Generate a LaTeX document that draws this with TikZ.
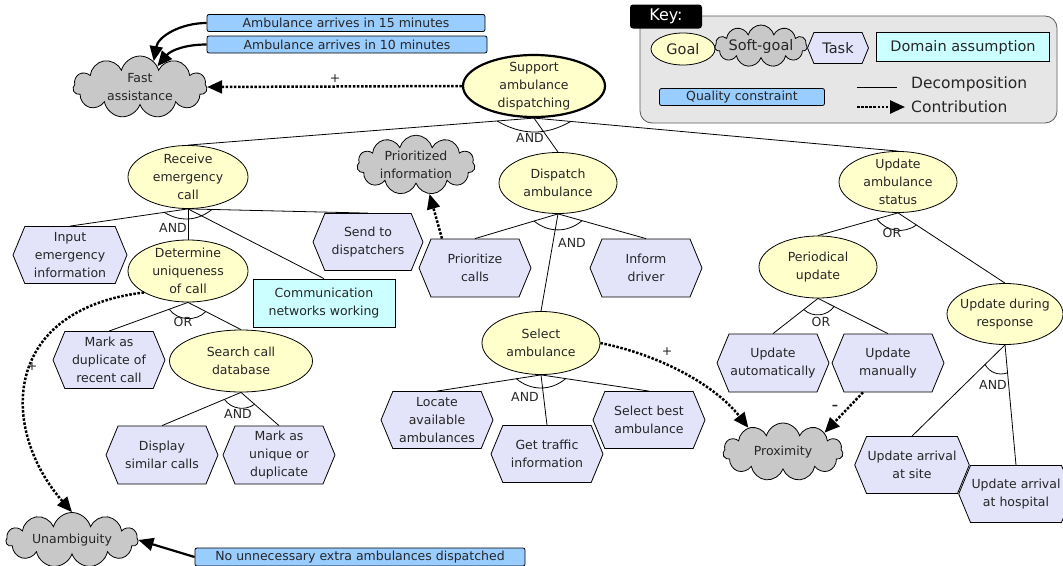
\documentclass[tikz,border=0pt]{standalone}
\usepackage{fontspec}
\setmainfont{DejaVu Sans}
\usepackage{tikz}
\usetikzlibrary{arrows.meta}
\usetikzlibrary{calc}
\usetikzlibrary{shapes.geometric,shapes.symbols}

\definecolor{goalyellow}{HTML}{FFFFCC}
\definecolor{softgray}{HTML}{C8C8C8}
\definecolor{tasklilac}{HTML}{E3E3FA}
\definecolor{domaincyan}{HTML}{CCFFFF}
\definecolor{qualityblue}{HTML}{99CCFF}
\definecolor{keygray}{HTML}{E6E6E6}

\begin{document}
\begin{tikzpicture}[x=1pt, y=-1pt,
    every node/.style={font=\fontsize{12.5}{18}\selectfont, align=center, text=black!85},
    goal/.style={draw, line width=0.8pt, ellipse, fill=goalyellow, minimum width=118pt, minimum height=62pt, inner sep=-5pt},
    softgoal/.style={draw, line width=0.8pt, cloud, cloud puffs=11, cloud ignores aspect, fill=softgray, minimum width=120pt, minimum height=55pt, inner sep=0pt},
    task/.style={draw, line width=0.8pt, signal, signal to=east and west, signal pointer angle=135, fill=tasklilac, minimum width=112pt, minimum height=57pt, inner sep=1pt},
    assumption/.style={draw, line width=0.8pt, rectangle, fill=domaincyan, inner sep=0pt},
    quality/.style={draw, line width=0.8pt, rectangle, rounded corners=2pt, fill=qualityblue, inner sep=0pt, minimum height=17pt},
    decomp/.style={line width=0.8pt},
    contrib/.style={line width=2.5pt, dash pattern=on 2.5pt off 1.6pt, -{Triangle[length=15pt,width=13pt]}},
    constrain/.style={line width=2.2pt, -{Triangle[length=15pt,width=13pt]}}]
    \useasboundingbox (0,0) rectangle (1063,565);
    \clip (0,0) rectangle (1063,565);

    % key
    \node[draw=black!65, line width=0.8pt, fill=keygray, rounded corners=12pt, minimum width=417pt, minimum height=107pt] (keybox) at (848.5,69.5) {};
    \node[fill=black, rounded corners=3pt, text=white, minimum width=72pt, minimum height=24pt, font=\fontsize{16}{18}\selectfont] (keytab) at (666,16.5) {Key:};
    \node[goal, minimum width=64pt, minimum height=32pt, inner sep=0pt, font=\fontsize{14.5}{16}\selectfont] (keygoal) at (683,49) {Goal};
    \node[softgoal, minimum width=88pt, minimum height=42pt, font=\fontsize{14.5}{16}\selectfont] (keysoft) at (761,46) {Soft-goal};
    \node[task, minimum width=61pt, minimum height=31pt, font=\fontsize{14.5}{16}\selectfont] (keytask) at (838,48) {Task};
    \node[assumption, minimum width=173pt, minimum height=29pt, font=\fontsize{14.5}{16}\selectfont] (keydomain) at (963,47) {Domain assumption};
    \node[quality, minimum width=165pt] (keyquality) at (742,97) {Quality constraint};
    \coordinate (dec1) at (857,87);
    \coordinate (dec2) at (897,87);
    \coordinate (con1) at (857,107);
    \coordinate (con2) at (905,107);
    \draw[decomp] (dec1) -- (dec2);
    \draw[contrib] (con1) -- (con2);
    \node[anchor=west, inner sep=0pt, font=\fontsize{15.5}{18}\selectfont] (keydec) at (911,84) {Decomposition};
    \node[anchor=west, inner sep=0pt, font=\fontsize{15.5}{18}\selectfont] (keycon) at (911,107) {Contribution};

    % goals, soft-goals, tasks
    \node[goal, line width=2.2pt, minimum width=142pt] (support) at (534,86) {Support\\ambulance\\dispatching};
    \node[softgoal, minimum width=134pt, minimum height=62pt] (fast) at (140,87) {Fast\\assistance};
    \node[quality, minimum width=278pt] (q15) at (346,23) {Ambulance arrives in 15 minutes};
    \node[quality, minimum width=280pt] (q10) at (347,44.5) {Ambulance arrives in 10 minutes};
    \node[goal, minimum width=120pt, minimum height=63pt] (recv) at (188,177) {Receive\\emergency\\call};
    \node[task, minimum width=114pt] (input) at (70,255) {Input\\emergency\\information};
    \node[goal, minimum width=120pt] (determine) at (188,271) {Determine\\uniqueness\\of call};
    \node[assumption, minimum width=142pt, minimum height=48pt] (comm) at (324,303) {Communication\\networks working};
    \node[task, minimum width=110pt] (send) at (368,242) {Send to\\dispatchers};
    \node[softgoal, minimum width=118pt, minimum height=54pt] (prinfo) at (416,165) {Prioritized\\information};
    \node[task, minimum height=58pt] (prio) at (475,268) {Prioritize\\calls};
    \node[goal, minimum height=61pt] (dispatch) at (558,183) {Dispatch\\ambulance};
    \node[task, minimum height=58pt] (inform) at (646,268) {Inform\\driver};
    \node[goal, minimum height=63pt] (select) at (541,343) {Select\\ambulance};
    \node[task] (locate) at (437,420) {Locate\\available\\ambulances};
    \node[task] (traffic) at (547,454) {Get traffic\\information};
    \node[task] (selbest) at (649,420) {Select best\\ambulance};
    \node[softgoal, minimum height=58pt] (prox) at (783,452) {Proximity};
    \node[goal, minimum height=61pt] (updstatus) at (898,182) {Update\\ambulance\\status};
    \node[goal] (periodical) at (818,267) {Periodical\\update};
    \node[goal, minimum width=116pt, minimum height=61pt] (during) at (1005,314) {Update during\\response};
    \node[task, minimum height=58pt] (upauto) at (773,363) {Update\\automatically};
    \node[task, minimum height=58pt] (upman) at (888,363) {Update\\manually};
    \node[task] (site) at (912,465) {Update arrival\\at site};
    \node[task] (hospital) at (1016,494) {Update arrival\\at hospital};
    \node[task] (markdup) at (109,360) {Mark as\\duplicate of\\recent call};
    \node[goal, minimum width=143pt] (search) at (241,361) {Search call\\database};
    \node[task, minimum height=58pt] (display) at (162,455) {Display\\similar calls};
    \node[task, minimum height=58pt] (markuniq) at (279,455) {Mark as\\unique or\\duplicate};
    \node[softgoal, minimum width=132pt] (unamb) at (72,540) {Unambiguity};
    \node[quality, minimum width=330pt, minimum height=18pt] (noextra) at (360,557) {No unnecessary extra ambulances dispatched};

    % decompositions
    \draw[decomp] (support.south) -- (recv.north);
    \draw[decomp] (support.south) -- (dispatch.north);
    \draw[decomp] (support.south) -- (updstatus.north);
    \draw[decomp] ($(support.south)!37pt!(recv.north)$) to[bend right=30] ($(support.south)!37pt!(updstatus.north)$);
    \draw[decomp] (recv.south) -- (input.north);
    \draw[decomp] (recv.south) -- (determine.north);
    \draw[decomp] (recv.south) -- (send.north);
    \draw[decomp] (recv.south) -- (comm.north);
    \draw[decomp] ($(recv.south)!24pt!(input.north)$) to[bend right=35] ($(recv.south)!24pt!(send.north)$);
    \draw[decomp] (determine.south) -- (markdup.north);
    \draw[decomp] (determine.south) -- (search.north);
    \draw[decomp] ($(determine.south)!20pt!(markdup.north)$) to[bend right=50] ($(determine.south)!20pt!(search.north)$);
    \draw[decomp] (search.south) -- (display.north);
    \draw[decomp] (search.south) -- (markuniq.north);
    \draw[decomp] ($(search.south)!18pt!(display.north)$) to[bend right=45] ($(search.south)!18pt!(markuniq.north)$);
    \draw[decomp] (dispatch.south) -- (prio.north);
    \draw[decomp] (dispatch.south) -- (inform.north);
    \draw[decomp] (dispatch.south) -- (select.north);
    \draw[decomp] ($(dispatch.south)!25pt!(prio.north)$) to[bend right=40] ($(dispatch.south)!25pt!(inform.north)$);
    \draw[decomp] (select.south) -- (locate.north);
    \draw[decomp] (select.south) -- (traffic.north);
    \draw[decomp] (select.south) -- (selbest.north);
    \draw[decomp] ($(select.south)!25pt!(locate.north)$) to[bend right=40] ($(select.south)!25pt!(selbest.north)$);
    \draw[decomp] (updstatus.south) -- (periodical.north);
    \draw[decomp] (updstatus.south) -- (during.north);
    \draw[decomp] ($(updstatus.south)!22pt!(periodical.north)$) to[bend right=45] ($(updstatus.south)!22pt!(during.north)$);
    \draw[decomp] (periodical.south) -- (upauto.north);
    \draw[decomp] (periodical.south) -- (upman.north);
    \draw[decomp] ($(periodical.south)!18pt!(upauto.north)$) to[bend right=50] ($(periodical.south)!18pt!(upman.north)$);
    \draw[decomp] (during.south) -- (site.north);
    \draw[decomp] (during.south) -- (hospital.north);
    \draw[decomp] ($(during.south)!28pt!(site.north)$) to[bend right=40] ($(during.south)!28pt!(hospital.north)$);

    \node (andsup) at (530,138) {AND};
    \node (andrecv) at (173,228) {AND};
    \node (ordet) at (183,322) {OR};
    \node (andsearch) at (238,414) {AND};
    \node (anddisp) at (572,243) {AND};
    \node (andsel) at (525,397) {AND};
    \node (orupd) at (892,233) {OR};
    \node (orper) at (821,322) {OR};
    \node (anddur) at (993,385) {AND};

    % contributions
    \draw[contrib] (support.west) -- (fast.east);
    \node (plusfast) at (335,79) {+};
    \draw[contrib] ([xshift=-33pt]prio.north) -- (prinfo.-65);
    \draw[contrib] (determine.206) .. controls (0,310) and (0,430) .. (unamb.north);
    \node (plusdet) at (32,367) {+};
    \draw[contrib] (select.east) .. controls (660,355) and (715,385) .. (prox.145);
    \node (plussel) at (667,352) {+};
    \draw[contrib] ([xshift=-25pt]upman.south) -- (prox.25);
    \node[font=\bfseries\fontsize{12.5}{18}\selectfont] (minusman) at (835,407) {--};

    % quality constraints
    \draw[constrain] (q15.west) to[out=180, in=80] (fast.62);
    \draw[constrain] (q10.west) to[out=180, in=50] (fast.50);
    \draw[constrain] (noextra.west) -- (unamb.east);
\end{tikzpicture}
\end{document}
